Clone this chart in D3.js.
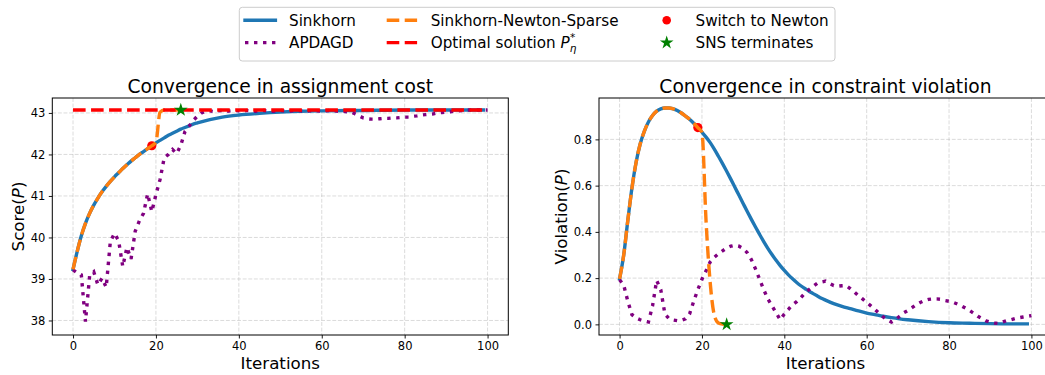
<!DOCTYPE html>
<html>
<head>
<meta charset="utf-8">
<script src="https://cdn.jsdelivr.net/npm/d3@7"></script>
<style>
  body { margin: 0; background: #fff; }
  text { font-family: "DejaVu Sans", sans-serif; fill: #000; }
</style>
</head>
<body>
<div id="chart"></div>
<script>
// ---- data ----
const xTicks = [0, 20, 40, 60, 80, 100];

// Sinkhorn, assignment cost
const sinkScoreIter = [0,1,2,3,4,5,6,7,8,9,10,11,12,13,14,15,16,17,18,19,20,21,22,23,24,25,26,27,28,29,30,33,36,40,45,50,55,60,70,80,90,99];
const sinkScore = [39.23,39.66,40.04,40.34,40.58,40.78,40.95,41.1,41.23,41.35,41.46,41.56,41.66,41.75,41.84,41.92,42.0,42.07,42.14,42.21,42.28,42.34,42.4,42.46,42.51,42.56,42.61,42.65,42.69,42.73,42.76,42.84,42.9,42.95,42.99,43.02,43.04,43.05,43.06,43.07,43.07,43.07];

// Sinkhorn-Newton-Sparse, assignment cost (iterations 0..26)
const snsScore = [39.23,39.66,40.04,40.34,40.58,40.78,40.95,41.1,41.23,41.35,41.46,41.56,41.66,41.75,41.84,41.92,42.0,42.07,42.14,42.21,42.3,43.02,43.07,43.07,43.07,43.07,43.07];

// APDAGD, assignment cost (iterations 0..100)
const apdagdScore = [39.22,39.15,39.1,37.97,39.07,39.17,38.86,39.02,38.8,39.9,
  40.1,39.92,39.3,39.76,39.48,40.15,40.4,40.58,41.05,40.62,
  41.03,41.4,41.92,42.0,42.12,42.02,42.22,42.55,42.68,42.82,
  42.92,43.0,43.04,43.05,43.03,43.05,43.06,43.04,43.05,43.06,
  43.05,43.04,43.06,43.05,43.04,43.05,43.06,43.05,43.04,43.05,
  43.06,43.05,43.04,43.05,43.06,43.05,43.04,43.05,43.06,43.05,
  43.04,43.05,43.06,43.05,43.04,43.04,43.03,43.02,42.98,42.93,
  42.88,42.86,42.85,42.85,42.86,42.87,42.87,42.88,42.88,42.89,
  42.9,42.9,42.92,42.93,42.95,42.96,42.97,42.98,43.0,43.01,
  43.02,43.03,43.04,43.05,43.06,43.07,43.07,43.07,43.07,43.07,43.07];

const optimalScore = 43.07;

// Sinkhorn, constraint violation
const sinkViolIter = [0,1,2,3,4,5,6,7,8,9,10,11,12,13,14,15,16,17,18,19,20,21,22,23,24,25,26,27,28,29,30,31,32,33,34,35,36,37,38,39,40,41,42,43,44,45,46,47,48,49,50,52,54,56,58,60,62,64,66,68,70,75,80,85,90,95,99];
const sinkViol = [0.197,0.3,0.45,0.59,0.7,0.78,0.835,0.875,0.903,0.922,0.932,0.936,0.936,0.932,0.925,0.914,0.901,0.887,0.87,0.851,
  0.831,0.81,0.786,0.758,0.727,0.695,0.662,0.628,0.593,0.558,0.523,0.488,0.454,0.421,0.389,0.358,0.329,0.302,0.277,0.254,
  0.233,0.214,0.197,0.181,0.167,0.155,0.143,0.133,0.123,0.113,0.105,0.09,0.078,0.068,0.058,0.049,0.042,0.035,0.029,0.024,
  0.02,0.012,0.007,0.005,0.003,0.002,0.002];

// Sinkhorn-Newton-Sparse, constraint violation (iterations 0..26)
const snsViol = [0.197,0.3,0.45,0.59,0.7,0.78,0.835,0.875,0.903,0.922,0.932,0.936,0.936,0.932,0.925,0.914,0.901,0.887,0.87,0.851,0.83,0.445,0.18,0.04,0.006,0.001,0.0];

// APDAGD, constraint violation (iterations 0..100)
const apdagdViol = [0.193,0.17,0.1,0.042,0.028,0.02,0.014,0.01,0.08,0.19,
  0.15,0.045,0.025,0.019,0.016,0.018,0.024,0.045,0.1,0.15,
  0.195,0.232,0.27,0.29,0.305,0.318,0.33,0.338,0.342,0.338,
  0.328,0.31,0.28,0.24,0.195,0.15,0.11,0.08,0.05,0.02,
  0.045,0.065,0.085,0.098,0.115,0.135,0.15,0.165,0.178,0.183,
  0.187,0.177,0.168,0.165,0.167,0.168,0.155,0.14,0.124,0.11,
  0.095,0.08,0.065,0.048,0.032,0.02,0.01,0.02,0.035,0.05,
  0.06,0.072,0.085,0.095,0.103,0.108,0.11,0.11,0.108,0.103,
  0.1,0.095,0.088,0.08,0.07,0.06,0.048,0.035,0.025,0.015,
  0.01,0.006,0.004,0.01,0.016,0.02,0.025,0.029,0.032,0.035,0.038];

const switchIter = 19;
const terminateIter = 26;

// ---- drawing ----
const width = 1045, height = 375;
const blue = "#1f77b4", orange = "#ff7f0e", red = "#ff0000", purple = "#800080", green = "#008000";
const lw = 3.4;

const svg = d3.select("#chart").append("svg")
  .attr("width", width)
  .attr("height", height);
svg.append("rect").attr("width", width).attr("height", height).attr("fill", "#fff");

const star = d3.symbol().type(d3.symbolStar).size(58);

function drawPanel(p) {
  const g = svg.append("g");
  const x = d3.scaleLinear().domain([-5, 105]).range([p.x0, p.x1]);
  const y = d3.scaleLinear().domain(p.yDomain).range([p.y1, p.y0]);

  // grid
  g.append("g").selectAll("line").data(xTicks).join("line")
    .attr("x1", d => x(d)).attr("x2", d => x(d))
    .attr("y1", p.y0).attr("y2", p.y1);
  g.append("g").selectAll("line").data(p.yTicks).join("line")
    .attr("x1", p.x0).attr("x2", p.x1)
    .attr("y1", d => y(d)).attr("y2", d => y(d));
  g.selectAll("line")
    .attr("stroke", "#b0b0b0").attr("stroke-opacity", 0.5)
    .attr("stroke-width", 0.9).attr("stroke-dasharray", "3.9,1.7");

  const smooth = d3.line().x(d => x(d[0])).y(d => y(d[1])).curve(d3.curveMonotoneX);
  const straight = d3.line().x((d, i) => x(i)).y(d => y(d));

  // Sinkhorn
  g.append("path")
    .attr("d", smooth(p.sinkIter.map((it, i) => [it, p.sink[i]])))
    .attr("fill", "none").attr("stroke", blue).attr("stroke-width", lw)
    .attr("stroke-linecap", "square");

  // APDAGD
  g.append("path")
    .attr("d", straight(p.apdagd))
    .attr("fill", "none").attr("stroke", purple).attr("stroke-width", lw)
    .attr("stroke-dasharray", `${lw},${1.65 * lw}`);

  // switch marker sits under the SNS dashes
  g.append("circle")
    .attr("cx", x(switchIter)).attr("cy", y(p.sns[switchIter]))
    .attr("r", 4.6).attr("fill", red);

  // Sinkhorn-Newton-Sparse
  g.append("path")
    .attr("d", smooth(p.sns.map((v, i) => [i, v])))
    .attr("fill", "none").attr("stroke", orange).attr("stroke-width", lw)
    .attr("stroke-dasharray", `${3.7 * lw},${1.6 * lw}`);

  // optimal value
  if (p.optimal != null) {
    g.append("line")
      .attr("x1", x(0)).attr("x2", x(99))
      .attr("y1", y(p.optimal)).attr("y2", y(p.optimal))
      .attr("stroke", red).attr("stroke-width", lw)
      .attr("stroke-dasharray", `${3.7 * lw},${1.6 * lw}`);
  }

  g.append("path")
    .attr("d", star())
    .attr("transform", `translate(${x(terminateIter)},${y(p.sns[terminateIter])})`)
    .attr("fill", green);

  // frame
  g.append("rect")
    .attr("x", p.x0).attr("y", p.y0)
    .attr("width", p.x1 - p.x0).attr("height", p.y1 - p.y0)
    .attr("fill", "none").attr("stroke", "#000").attr("stroke-width", 1);

  // axes
  const xAxis = g.append("g")
    .attr("transform", `translate(0,${p.y1})`)
    .call(d3.axisBottom(x).tickValues(xTicks).tickSize(3.5).tickPadding(3.5).tickSizeOuter(0));
  const yAxis = g.append("g")
    .attr("transform", `translate(${p.x0},0)`)
    .call(d3.axisLeft(y).tickValues(p.yTicks).tickFormat(p.yFmt).tickSize(3.5).tickPadding(3.5).tickSizeOuter(0));
  [xAxis, yAxis].forEach(a => {
    a.select(".domain").remove();
    a.selectAll("line").attr("stroke", "#000").attr("stroke-width", 0.9);
    a.selectAll("text").attr("font-size", 11.5).attr("font-family", "DejaVu Sans").attr("fill", "#222");
  });

  // labels
  const cx = (p.x0 + p.x1) / 2;
  g.append("text")
    .attr("x", cx).attr("y", 93)
    .attr("text-anchor", "middle").attr("font-size", 18.7)
    .text(p.title);
  g.append("text")
    .attr("x", cx).attr("y", 369.3)
    .attr("text-anchor", "middle").attr("font-size", 16.7)
    .text("Iterations");
  const yl = g.append("text")
    .attr("transform", `translate(${p.ylabelX},${(p.y0 + p.y1) / 2}) rotate(-90)`)
    .attr("text-anchor", "middle").attr("font-size", 16.7);
  yl.append("tspan").text(p.ylabel + "(");
  yl.append("tspan").attr("font-style", "italic").text("P");
  yl.append("tspan").text(")");
}

drawPanel({
  x0: 52.3, x1: 508.3, y0: 98, y1: 335,
  yDomain: [37.65, 43.36], yTicks: [38, 39, 40, 41, 42, 43], yFmt: d3.format("d"),
  sinkIter: sinkScoreIter, sink: sinkScore, sns: snsScore, apdagd: apdagdScore,
  optimal: optimalScore,
  title: "Convergence in assignment cost", ylabel: "Score", ylabelX: 23.5
});

drawPanel({
  x0: 599, x1: 1052, y0: 98, y1: 335,
  yDomain: [-0.046, 0.979], yTicks: [0, 0.2, 0.4, 0.6, 0.8], yFmt: d3.format(".1f"),
  sinkIter: sinkViolIter, sink: sinkViol, sns: snsViol, apdagd: apdagdViol,
  optimal: null,
  title: "Convergence in constraint violation", ylabel: "Violation", ylabelX: 566.5
});

// ---- legend ----
const legend = svg.append("g");
legend.append("rect")
  .attr("x", 239.3).attr("y", 7.3).attr("width", 595.7).attr("height", 53.7)
  .attr("rx", 3).attr("fill", "#fff").attr("fill-opacity", 0.8)
  .attr("stroke", "#cccccc").attr("stroke-width", 1);

const rowY = [20.3, 42.6];
const handleLen = 30.4;
const legendItems = [
  { col: 245, row: 0, type: "line", color: blue, dash: null, label: "Sinkhorn" },
  { col: 245, row: 1, type: "line", color: purple, dash: `${lw},${1.65 * lw}`, label: "APDAGD" },
  { col: 386.7, row: 0, type: "line", color: orange, dash: `${3.7 * lw},${1.6 * lw}`, label: "Sinkhorn-Newton-Sparse" },
  { col: 386.7, row: 1, type: "line", color: red, dash: `${3.7 * lw},${1.6 * lw}`, label: "Optimal solution " },
  { col: 651.5, row: 0, type: "dot", color: red, label: "Switch to Newton" },
  { col: 651.5, row: 1, type: "star", color: green, label: "SNS terminates" }
];

legendItems.forEach((d, i) => {
  const yy = rowY[d.row];
  if (d.type === "line") {
    legend.append("line")
      .attr("x1", d.col).attr("x2", d.col + handleLen)
      .attr("y1", yy).attr("y2", yy)
      .attr("stroke", d.color).attr("stroke-width", lw)
      .attr("stroke-linecap", d.dash ? "butt" : "square")
      .attr("stroke-dasharray", d.dash);
  } else if (d.type === "dot") {
    legend.append("circle")
      .attr("cx", d.col + handleLen / 2).attr("cy", yy).attr("r", 4.3).attr("fill", d.color);
  } else {
    legend.append("path").attr("d", star())
      .attr("transform", `translate(${d.col + handleLen / 2},${yy})`).attr("fill", d.color);
  }
  const t = legend.append("text")
    .attr("x", d.col + 44).attr("y", yy + 5.5)
    .attr("font-size", 15.2)
    .text(d.label);
  if (i === 3) {
    // P_eta^* in math italics
    t.append("tspan").attr("font-style", "italic").text("P");
    t.append("tspan").attr("font-style", "italic").attr("font-size", 10.5).attr("dy", 4).text("η");
    t.append("tspan").attr("font-size", 10.5).attr("dx", -6.3).attr("dy", -11).text("*");
  }
});
</script>
</body>
</html>
